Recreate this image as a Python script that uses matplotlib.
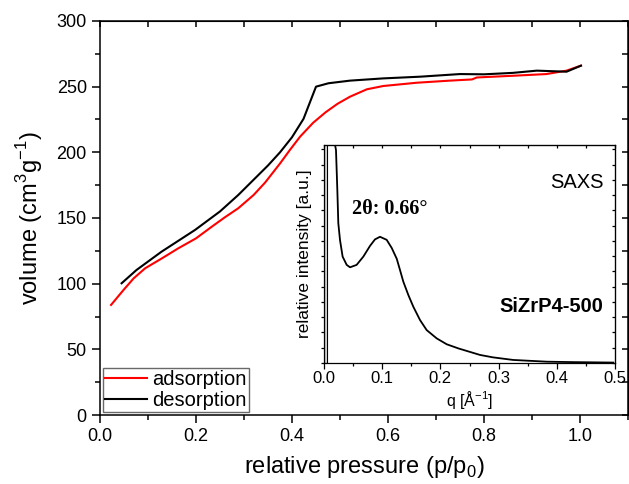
import numpy as np
import matplotlib
matplotlib.use("Agg")
import matplotlib.pyplot as plt
import matplotlib.ticker as ticker

plt.rcParams['font.family'] = ['Liberation Sans', 'DejaVu Sans']
plt.rcParams['mathtext.fontset'] = 'custom'
plt.rcParams['mathtext.rm'] = 'Liberation Sans'

# N2 isotherm
ads_p = [0.023, 0.049, 0.070, 0.094, 0.130, 0.163, 0.200, 0.233, 0.260, 0.288,
         0.320, 0.344, 0.375, 0.396, 0.417, 0.444, 0.470, 0.495, 0.521, 0.556,
         0.590, 0.660, 0.729, 0.775, 0.785, 0.860, 0.930, 0.972, 1.002]
ads_v = [83.8, 95.2, 104.0, 111.7, 119.5, 126.9, 134.5, 143.4, 150.5, 157.4,
         167.5, 177.0, 191.5, 202.0, 212.0, 222.5, 230.5, 237.0, 242.4, 248.0,
         250.5, 253.0, 254.6, 255.5, 257.0, 258.3, 259.6, 262.2, 266.0]

des_p = [0.045, 0.076, 0.128, 0.198, 0.250, 0.288, 0.3125, 0.350, 0.375, 0.400,
         0.424, 0.450, 0.476, 0.521, 0.590, 0.667, 0.750, 0.800, 0.860, 0.910,
         0.972, 1.002]
des_v = [100.3, 110.4, 124.3, 140.9, 155.0, 167.5, 176.4, 190.0, 200.0, 211.5,
         225.5, 250.0, 252.6, 254.6, 256.3, 257.6, 259.6, 259.4, 260.5, 262.2,
         261.4, 266.0]

# SAXS inset
q = [0.0170, 0.0190, 0.0206, 0.0229, 0.0246, 0.0275, 0.0320, 0.0390, 0.0447,
     0.0560, 0.0676, 0.0790, 0.0876, 0.0962, 0.1077, 0.1163, 0.1250, 0.1300,
     0.1363, 0.1449, 0.1535, 0.1650, 0.1764, 0.1936, 0.2108, 0.2308, 0.2680,
     0.2900, 0.3250, 0.3830, 0.4300, 0.4970]
intensity = [1.15, 1.00, 0.977, 0.794, 0.641, 0.564, 0.488, 0.450, 0.439,
             0.450, 0.488, 0.537, 0.567, 0.579, 0.565, 0.528, 0.478, 0.432,
             0.373, 0.312, 0.258, 0.197, 0.151, 0.113, 0.086, 0.067, 0.037,
             0.026, 0.014, 0.006, 0.004, 0.002]

fig = plt.figure(figsize=(6.29, 4.84), dpi=100)
ax = fig.add_axes([100 / 629, 1 - 415 / 484, 528 / 629, 394 / 484])

ax.plot(ads_p, ads_v, color='red', lw=1.5, label='adsorption')
ax.plot(des_p, des_v, color='black', lw=1.5, label='desorption')

ax.set_xlim(0, 1.1)
ax.set_ylim(0, 300)
ax.xaxis.set_major_locator(ticker.MultipleLocator(0.2))
ax.xaxis.set_minor_locator(ticker.MultipleLocator(0.1))
ax.yaxis.set_major_locator(ticker.MultipleLocator(50))
ax.yaxis.set_minor_locator(ticker.MultipleLocator(25))
ax.xaxis.set_major_formatter(ticker.FormatStrFormatter("%.1f"))
ax.tick_params(which='major', direction='out', length=6, width=1.1, labelsize=13)
ax.tick_params(which='minor', direction='out', length=3.5, width=1.1)
for s in ax.spines.values():
    s.set_linewidth(1.1)

top = ax.secondary_xaxis('top')
top.xaxis.set_major_locator(ticker.MultipleLocator(0.1))
top.xaxis.set_major_formatter(ticker.NullFormatter())
top.tick_params(direction='in', length=4, width=1.1)
right = ax.secondary_yaxis('right')
right.yaxis.set_major_locator(ticker.MultipleLocator(25))
right.yaxis.set_major_formatter(ticker.NullFormatter())
right.tick_params(direction='in', length=4, width=1.1)

ax.set_xlabel(r'relative pressure (p/p$_0$)', fontsize=17, labelpad=6)
ax.set_ylabel(r'volume (cm$^3$g$^{-1}$)', fontsize=17, labelpad=8)

leg = ax.legend(loc='lower left', fontsize=14.5, frameon=True, fancybox=False,
                borderaxespad=0.15, borderpad=0.1, handletextpad=0.25,
                labelspacing=0.1, handlelength=2.1)
leg.get_frame().set_edgecolor('#444444')
leg.get_frame().set_linewidth(1.0)

# inset
ins = fig.add_axes([324 / 629, 1 - 363 / 484, 291 / 629, 218 / 484])
ins.axvspan(0, 0.006, facecolor='#d9d9d9', edgecolor='black', lw=0.8)
ins.plot(q, intensity, color='black', lw=1.3)
ins.set_xlim(0, 0.5)
ins.set_ylim(0, 1)
ins.xaxis.set_major_locator(ticker.MultipleLocator(0.1))
ins.xaxis.set_minor_locator(ticker.MultipleLocator(0.05))
ins.yaxis.set_major_locator(ticker.MultipleLocator(0.07))
ins.yaxis.set_major_formatter(ticker.NullFormatter())
ins.xaxis.set_major_formatter(ticker.FormatStrFormatter("%.1f"))
ins.tick_params(which='major', direction='out', length=4, width=0.9, labelsize=12, pad=2)
ins.tick_params(which='minor', direction='out', length=2.5, width=0.9)
ins.tick_params(axis='y', length=2.5)
for s in ins.spines.values():
    s.set_linewidth(0.9)
itop = ins.secondary_xaxis('top')
itop.xaxis.set_major_locator(ticker.MultipleLocator(0.05))
itop.xaxis.set_major_formatter(ticker.NullFormatter())
itop.tick_params(direction='in', length=2.5, width=0.9)
iright = ins.secondary_yaxis('right')
iright.yaxis.set_major_locator(ticker.MultipleLocator(0.07))
iright.yaxis.set_major_formatter(ticker.NullFormatter())
iright.tick_params(direction='in', length=2.5, width=0.9)

ins.set_xlabel(r'q [$\mathrm{\AA}^{-1}$]', fontsize=11.5, labelpad=2)
ins.set_ylabel('relative intensity [a.u.]', fontsize=12.5, labelpad=4)

ins.text(0.96, 0.83, 'SAXS', transform=ins.transAxes, ha='right', va='center',
         fontsize=14.5)
ins.text(0.96, 0.26, 'SiZrP4-500', transform=ins.transAxes, ha='right', va='center',
         fontsize=14.5, fontweight='bold')
ins.text(0.095, 0.705, '2\u03b8: 0.66\u00b0', transform=ins.transAxes, ha='left',
         va='center', fontsize=14.5, fontweight='bold',
         family=['Liberation Serif', 'DejaVu Serif'])

fig.savefig('out.png', dpi=100)
